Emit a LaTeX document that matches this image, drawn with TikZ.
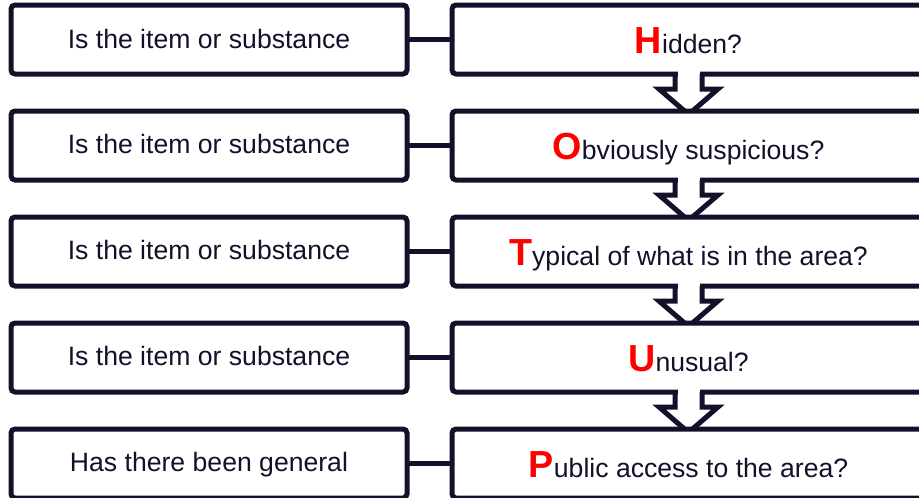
\documentclass[tikz,border=0pt]{standalone}
\usepackage{fontspec}
\setmainfont{Liberation Sans}
\usetikzlibrary{calc}
\definecolor{ink}{RGB}{20,16,42}
\definecolor{hired}{RGB}{255,0,0}
\newcommand\capl[1]{{\fontsize{37.7}{40}\selectfont\bfseries\color{hired}#1}}
\begin{document}
\begin{tikzpicture}[x=1pt,y=-1pt,
  box/.style={draw=ink, line width=5pt, rounded corners=4pt, minimum height=69pt, inner sep=0pt, outer sep=0pt, fill=white},
  leftbox/.style={box, minimum width=396pt},
  rightbox/.style={box, minimum width=473pt},
  link/.style={draw=ink, line width=5pt},
  downarrow/.style={draw=ink, line width=5pt, line join=miter},
  small/.style={text=ink, font=\fontsize{26.6}{30}\selectfont, inner sep=0pt},
]
\useasboundingbox (0,0) rectangle (919,498);
\fill[white] (0,0) rectangle (919,498);
\foreach \i/\y in {1/39.5,2/145.5,3/251.5,4/357.5,5/463.5}{
  \node[leftbox] (L\i) at (209,\y) {};
  \node[rightbox] (R\i) at (688.5,\y) {};
  \draw[link] (L\i.east) -- (R\i.west);
}
\foreach \a/\b in {1/2,2/3,3/4,4/5}{
  \fill[white] ($(R\a.south)+(-11,-3.5)$) rectangle ($(R\a.south)+(11,3.5)$);
  \draw[downarrow] ($(R\a.south)+(-13.5,0)$) -- ++(0,15) -- ++(-16,0) -- ($(R\b.north)+(-4,0)$);
  \draw[downarrow] ($(R\a.south)+(13.5,0)$) -- ++(0,15) -- ++(16,0) -- ($(R\b.north)+(4,0)$);
}
\node[small, anchor=base] (LT1) at ($(L1.center)+(0,8.5)$) {Is the item or substance};
\node[small, anchor=base] (LT2) at ($(L2.center)+(0,7.5)$) {Is the item or substance};
\node[small, anchor=base] (LT3) at ($(L3.center)+(0,7.5)$) {Is the item or substance};
\node[small, anchor=base] (LT4) at ($(L4.center)+(0,7.5)$) {Is the item or substance};
\node[small, anchor=base] (LT5) at ($(L5.center)+(0,7.5)$) {Has there been general};
\node[small, anchor=base] (RT1) at ($(R1.center)+(0,13.5)$) {\capl{H}idden?};
\node[small, anchor=base] (RT2) at ($(R2.center)+(0,13.5)$) {\capl{O}bviously suspicious?};
\node[small, anchor=base] (RT3) at ($(R3.center)+(0,13.5)$) {\capl{T}ypical of what is in the area?};
\node[small, anchor=base] (RT4) at ($(R4.center)+(0,13.5)$) {\capl{U}nusual?};
\node[small, anchor=base] (RT5) at ($(R5.center)+(0,13.5)$) {\capl{P}ublic access to the area?};
\end{tikzpicture}
\end{document}
